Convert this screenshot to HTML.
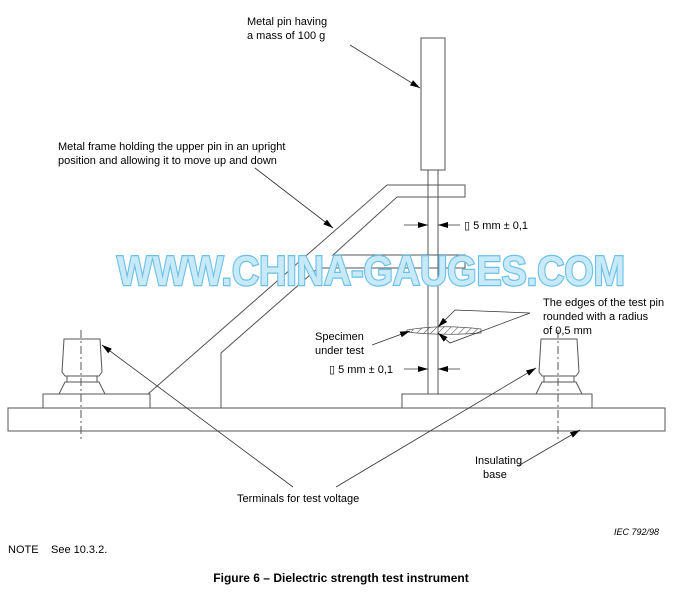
<!DOCTYPE html>
<html><head><style>
body{margin:0;background:#fff}
svg{display:block}
text{font-family:"Liberation Sans",Arial,sans-serif;font-size:11px;fill:#000}
</style></head><body>
<svg width="680" height="597" viewBox="0 0 680 597" xmlns="http://www.w3.org/2000/svg">
<defs>
<marker id="a" markerWidth="10" markerHeight="6" refX="10" refY="3" orient="auto" markerUnits="userSpaceOnUse"><path d="M0,0 L10,3 L0,6 z" fill="#000"/></marker>
<pattern id="h" width="5" height="5" patternUnits="userSpaceOnUse" patternTransform="rotate(45)"><line x1="0" y1="0" x2="0" y2="5" stroke="#444" stroke-width="1"/></pattern>
</defs>
<g stroke="#555" stroke-width="1" fill="none">
<rect x="8" y="408" width="657" height="23" fill="#fff"/>
<rect x="43" y="394" width="107" height="14"/>
<rect x="402" y="394" width="190" height="14"/>
<rect x="421" y="38" width="24" height="132"/>
<line x1="428" y1="170" x2="428" y2="394"/>
<line x1="438" y1="170" x2="438" y2="394"/>
<path d="M148,394 L387,185 L465,185 L465,197 L397,197 L333,255 L465,255 L465,268 L318,268 L221,353 L221,408"/>
<path d="M64,339 L100,339 L102,372 L99,376 L65,376 L62,372 Z"/>
<path d="M67,376 L67,382 M97,376 L97,382 M65,382 L99,382 L105,394 L59,394 Z"/>
<path d="M541,339 L577,339 L579,372 L576,376 L542,376 L539,372 Z"/>
<path d="M544,376 L544,382 M574,376 L574,382 M542,382 L576,382 L582,394 L536,394 Z"/>
<line x1="81" y1="330" x2="81" y2="440" stroke-dasharray="8,3,2,3"/>
<line x1="558" y1="330" x2="558" y2="440" stroke-dasharray="8,3,2,3"/>
</g>
<path d="M407,330 Q440,324 481,329 L481,333 Q440,336 407,332 Z" fill="url(#h)" stroke="#555" stroke-width="0.8"/>
<g stroke="#333" stroke-width="0.8" fill="none">
<line x1="350" y1="45" x2="420" y2="88" marker-end="url(#a)"/>
<line x1="255" y1="168" x2="333" y2="228" marker-end="url(#a)"/>
<line x1="404" y1="225" x2="428" y2="225" marker-end="url(#a)"/>
<line x1="460" y1="225" x2="438" y2="225" marker-end="url(#a)"/>
<line x1="404" y1="369" x2="428" y2="369" marker-end="url(#a)"/>
<line x1="460" y1="369" x2="438" y2="369" marker-end="url(#a)"/>
<line x1="372" y1="345" x2="410" y2="331" marker-end="url(#a)"/>
<path d="M530,313 L455,310 L438,327" marker-end="url(#a)"/>
<path d="M530,313 L450,343 L438,333" marker-end="url(#a)"/>
<line x1="293" y1="487" x2="102" y2="345" marker-end="url(#a)"/>
<line x1="336" y1="487" x2="536" y2="368" marker-end="url(#a)"/>
<line x1="518" y1="466" x2="580" y2="430" marker-end="url(#a)"/>
</g>
<text x="117" y="285" textLength="508" lengthAdjust="spacingAndGlyphs" style="font-size:42px;font-weight:bold;fill:#c8eaf8;stroke:#6cc0e8;stroke-width:2.5;paint-order:stroke">WWW.CHINA-GAUGES.COM</text>
<text x="247" y="25">Metal pin having</text>
<text x="247" y="39">a mass of 100 g</text>
<text x="58" y="150">Metal frame holding the upper pin in an upright</text>
<text x="58" y="164">position and allowing it to move up and down</text>
<text x="464" y="229">▯ 5 mm ± 0,1</text>
<text x="329" y="373">▯ 5 mm ± 0,1</text>
<text x="543" y="306">The edges of the test pin</text>
<text x="543" y="320">rounded with a radius</text>
<text x="543" y="334">of 0,5 mm</text>
<text x="315" y="340">Specimen</text>
<text x="315" y="354">under test</text>
<text x="475" y="464">Insulating</text>
<text x="483" y="478">base</text>
<text x="237" y="502">Terminals for test voltage</text>
<text x="614" y="535" style="font-size:9px;font-style:italic">IEC  792/98</text>
<text x="8" y="553">NOTE</text>
<text x="51" y="553">See 10.3.2.</text>
<text x="341" y="582" text-anchor="middle" style="font-weight:bold;font-size:12px">Figure 6 – Dielectric strength test instrument</text>
</svg>
</body></html>
